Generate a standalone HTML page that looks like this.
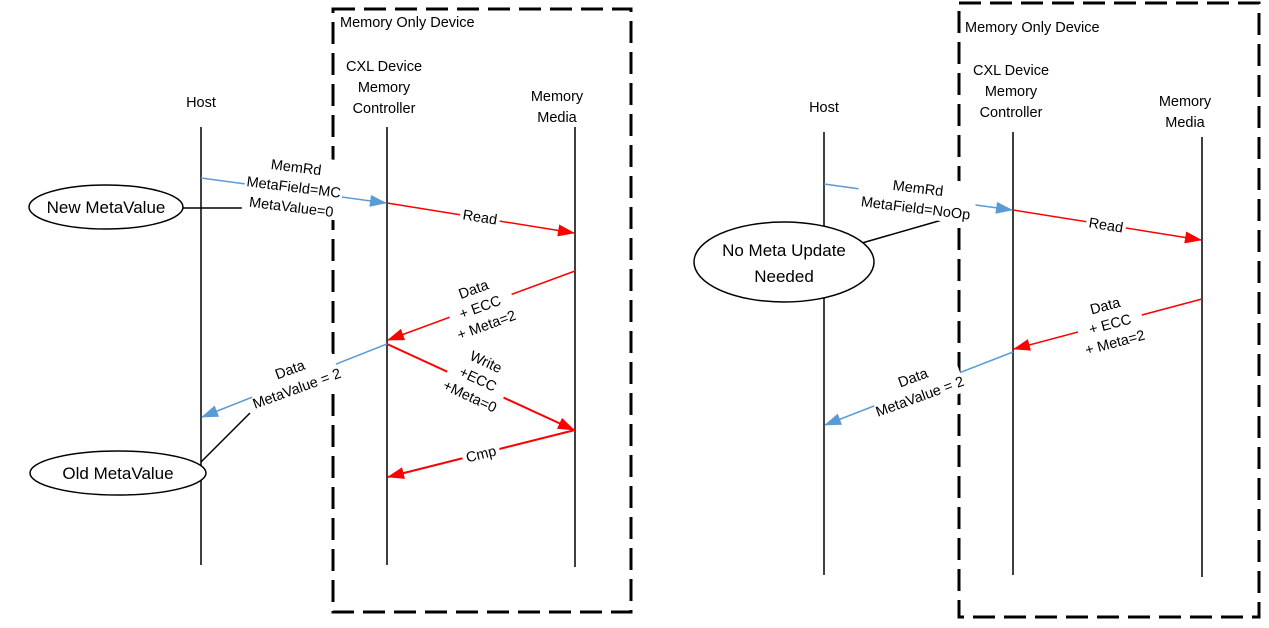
<!DOCTYPE html>
<html><head><meta charset="utf-8"><style>body{margin:0;background:#fff}svg{display:block}text{font-family:"Liberation Sans",sans-serif;font-size:14.5px;fill:#000}</style></head><body>
<svg width="1269" height="628" viewBox="0 0 1269 628">
<defs>
<marker id="r" markerWidth="17" markerHeight="12" refX="16" refY="6" orient="auto" markerUnits="userSpaceOnUse" viewBox="0 0 17 12"><path d="M0,0L17,6L0,12z" fill="#ff0000"/></marker>
<marker id="b" markerWidth="17" markerHeight="12" refX="16" refY="6" orient="auto" markerUnits="userSpaceOnUse" viewBox="0 0 17 12"><path d="M0,0L17,6L0,12z" fill="#5b9bd5"/></marker>
</defs>
<g fill="none" stroke="#000" stroke-width="3" stroke-dasharray="22,9">
<rect x="333" y="9" width="298" height="603"/>
<rect x="959" y="3" width="300" height="614"/>
</g>
<g stroke="#000" stroke-width="1.5">
<line x1="201" y1="127" x2="201" y2="565"/><line x1="387" y1="127" x2="387" y2="565"/><line x1="575" y1="127" x2="575" y2="567"/>
<line x1="824" y1="132" x2="824" y2="575"/><line x1="1013" y1="132" x2="1013" y2="575"/><line x1="1202" y1="137" x2="1202" y2="577"/>
<line x1="183" y1="208" x2="243" y2="208"/><line x1="201" y1="462" x2="250" y2="413"/><line x1="862" y1="243" x2="942" y2="220"/>
</g>
<g fill="#fff" stroke="#000" stroke-width="1.5">
<ellipse cx="106" cy="207" rx="77" ry="22"/><ellipse cx="118" cy="473" rx="88" ry="22"/><ellipse cx="784" cy="262" rx="90" ry="40"/>
</g>
<g stroke-width="1.5" fill="none">
<line x1="201" y1="178" x2="386" y2="203" stroke="#5b9bd5" marker-end="url(#b)"/>
<line x1="387" y1="203" x2="574" y2="233" stroke="#f00" marker-end="url(#r)"/>
<line x1="575" y1="271" x2="388" y2="340" stroke="#f00" marker-end="url(#r)"/>
<line x1="387" y1="344" x2="202" y2="417" stroke="#5b9bd5" marker-end="url(#b)"/>
<line x1="387" y1="344" x2="574" y2="430" stroke="#f00" stroke-width="2" marker-end="url(#r)"/>
<line x1="575" y1="430" x2="388" y2="477" stroke="#f00" stroke-width="2" marker-end="url(#r)"/>
<line x1="824" y1="184" x2="1012" y2="210" stroke="#5b9bd5" marker-end="url(#b)"/>
<line x1="1013" y1="210" x2="1201" y2="240" stroke="#f00" marker-end="url(#r)"/>
<line x1="1202" y1="299" x2="1014" y2="349" stroke="#f00" marker-end="url(#r)"/>
<line x1="1013" y1="352" x2="825" y2="425" stroke="#5b9bd5" marker-end="url(#b)"/>
</g>
<g fill="#fff">
<rect x="245" y="155" width="98" height="60" transform="rotate(7 294 185)"/>
<rect x="460" y="208" width="40" height="18" transform="rotate(9 480 217)"/>
<rect x="448" y="278" width="66" height="58" transform="rotate(-20 480 307)"/>
<rect x="248" y="356" width="90" height="44" transform="rotate(-20 293 378)"/>
<rect x="447" y="350" width="62" height="58" transform="rotate(25 478 379)"/>
<rect x="462" y="445" width="38" height="18" transform="rotate(-14 481 454)"/>
<rect x="858" y="176" width="118" height="42" transform="rotate(7 917 197)"/>
<rect x="1086" y="216" width="40" height="18" transform="rotate(9 1106 225)"/>
<rect x="1077" y="295" width="66" height="58" transform="rotate(-15 1110 324)"/>
<rect x="870" y="364" width="92" height="44" transform="rotate(-20 916 386)"/>
</g>
<text x="340" y="27">Memory Only Device</text>
<text x="965" y="32">Memory Only Device</text>
<g text-anchor="middle">
<text x="201" y="107">Host</text>
<text x="384" y="71">CXL Device</text><text x="384" y="92">Memory</text><text x="384" y="113">Controller</text>
<text x="557" y="101">Memory</text><text x="557" y="122">Media</text>
<text x="824" y="112">Host</text>
<text x="1011" y="75">CXL Device</text><text x="1011" y="96">Memory</text><text x="1011" y="117">Controller</text>
<text x="1185" y="106">Memory</text><text x="1185" y="127">Media</text>
<text x="106" y="213" style="font-size:17px">New MetaValue</text>
<text x="118" y="479" style="font-size:17px">Old MetaValue</text>
<text x="784" y="256" style="font-size:17px">No Meta Update</text>
<text x="784" y="282" style="font-size:17px">Needed</text>
<g transform="rotate(7 294 185)"><text x="294" y="172">MemRd</text><text x="294" y="192">MetaField=MC</text><text x="294" y="212">MetaValue=0</text></g>
<text x="480" y="222" transform="rotate(9 480 217)">Read</text>
<g transform="rotate(-20 480 307)"><text x="480" y="293">Data</text><text x="480" y="312">+ ECC</text><text x="480" y="331">+ Meta=2</text></g>
<g transform="rotate(-20 293 378)"><text x="293" y="374">Data</text><text x="293" y="394">MetaValue = 2</text></g>
<g transform="rotate(25 478 379)"><text x="478" y="365">Write</text><text x="478" y="384">+ECC</text><text x="478" y="403">+Meta=0</text></g>
<text x="481" y="459" transform="rotate(-14 481 454)">Cmp</text>
<g transform="rotate(7 917 197)"><text x="917" y="193">MemRd</text><text x="917" y="213">MetaField=NoOp</text></g>
<text x="1106" y="230" transform="rotate(9 1106 225)">Read</text>
<g transform="rotate(-15 1110 324)"><text x="1110" y="310">Data</text><text x="1110" y="329">+ ECC</text><text x="1110" y="348">+ Meta=2</text></g>
<g transform="rotate(-20 916 386)"><text x="916" y="382">Data</text><text x="916" y="402">MetaValue = 2</text></g>
</g>
</svg>
</body></html>
